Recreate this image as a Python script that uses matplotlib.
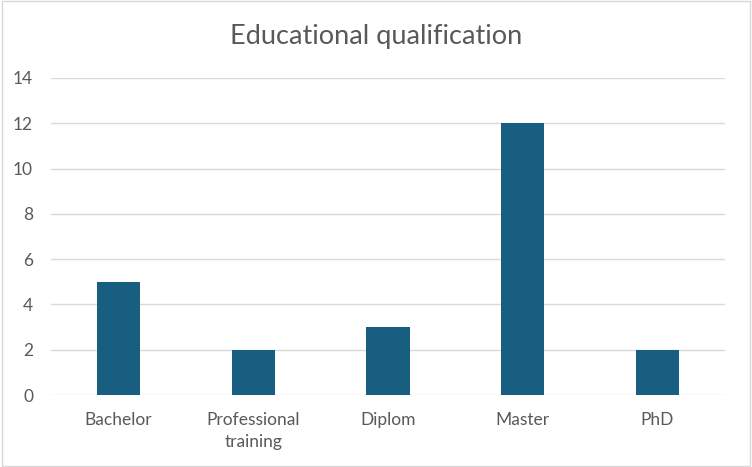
import matplotlib
matplotlib.use("Agg")
import matplotlib.pyplot as plt
from matplotlib.patches import Rectangle

categories = ["Bachelor", "Professional\ntraining", "Diplom", "Master", "PhD"]
values = [5, 2, 3, 12, 2]
yticks = [0, 2, 4, 6, 8, 10, 12, 14]

plt.rcParams['font.family'] = ['Lato', 'DejaVu Sans']

fig = plt.figure(figsize=(7.52, 4.67), dpi=100)
ax = fig.add_axes([0.068, 0.154, 0.896, 0.679])

x = list(range(len(categories)))
ax.bar(x, values, width=0.32, color='#175E80', zorder=3)
ax.set_xlim(-0.5, len(categories) - 0.5)
ax.set_ylim(0, 14)
ax.set_yticks(yticks)
ax.set_yticklabels([str(v) for v in yticks], fontsize=12.5, color='#595959')
ax.set_xticks(x)
ax.set_xticklabels(categories, fontsize=12.5, color='#595959', linespacing=1.4)
ax.tick_params(axis='both', length=0)
ax.tick_params(axis='x', pad=12.5)
ax.tick_params(axis='y', pad=13)
ax.grid(axis='y', color='#D9D9D9', linewidth=1, zorder=0)
for s in ax.spines.values():
    s.set_visible(False)

fig.text(0.5, 0.922, "Educational qualification", ha='center', va='center',
         fontsize=19.5, color='#595959')

fig.patches.append(Rectangle((0.002, 0.003), 0.996, 0.994, transform=fig.transFigure,
                             fill=False, edgecolor='#D9D9D9', linewidth=1))

fig.savefig("out.png", dpi=100)
